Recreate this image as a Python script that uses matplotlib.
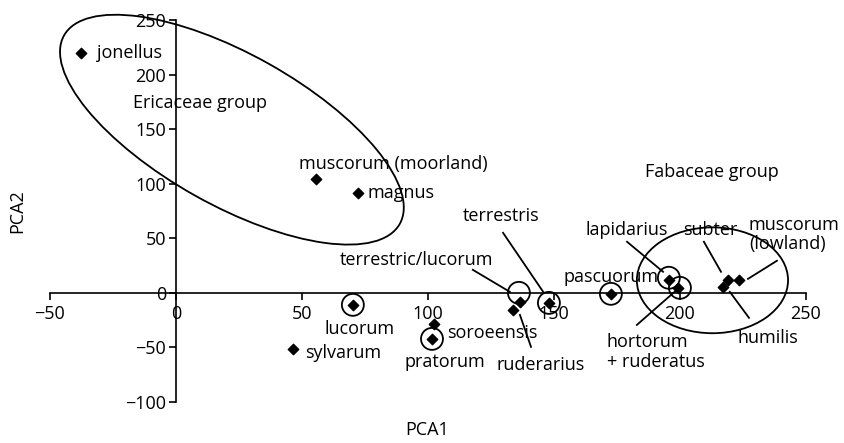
import numpy as np
import matplotlib
matplotlib.use('Agg')
import matplotlib.pyplot as plt
from matplotlib.patches import Ellipse
from matplotlib import transforms

plt.rcParams['font.family'] = ['Open Sans', 'DejaVu Sans']
plt.rcParams['font.size'] = 13

# species scores on the first two principal components
species = ['jonellus', 'muscorum (moorland)', 'magnus', 'lucorum', 'sylvarum',
           'soroeensis', 'pratorum', 'terrestric/lucorum', 'ruderarius',
           'terrestris', 'pascuorum', 'lapidarius', 'hortorum + ruderatus',
           'humilis', 'subter', 'muscorum (lowland)']
pca1 = [-37.7, 55.6, 72.2, 70.2, 46.4, 102.4, 101.8, 136.5, 133.7,
        148.0, 172.6, 195.6, 199.2, 217.0, 219.0, 223.4]
pca2 = [219.3, 104.6, 91.7, -11.0, -51.4, -28.4, -42.2, -8.3, -15.6,
        -9.2, -0.9, 11.9, 4.6, 5.5, 11.9, 11.9]

# label text, anchor (left edge, vertical centre)
label_text = ['jonellus', 'Ericaceae group', 'muscorum (moorland)', 'magnus',
              'Fabaceae group', 'terrestris', 'terrestric/lucorum', 'pascuorum',
              'lapidarius', 'subter', 'muscorum\n(lowland)', 'lucorum',
              'sylvarum', 'soroeensis', 'pratorum', 'ruderarius',
              'hortorum\n+ ruderatus', 'humilis']
label_x = [-31.3, -17.1, 48.8, 76.2, 186.1, 113.9, 65.1, 153.6,
           162.7, 201.2, 227.4, 59.1, 51.2, 107.5, 90.5, 127.4, 171.0, 223.0]
label_y = [219.3, 174.3, 118.3, 91.7, 111.0, 70.6, 30.3, 14.7,
           57.8, 57.8, 53.7, -33.0, -55.0, -36.7, -63.3, -66.0, -54.1, -41.3]

# leader lines from labels to points
leaders = [((117.8, 21.1), (132.5, 0.9)),
           ((129.8, 55.0), (146.0, 0.0)),
           ((136.5, -20.2), (140.9, -49.5)),
           ((179.0, 46.8), (193.3, 19.3)),
           ((209.5, 46.8), (216.3, 19.3)),
           ((238.5, 29.4), (227.0, 12.8)),
           ((219.8, 0.9), (227.4, -22.9)),
           ((182.9, -29.4), (198.8, 2.8))]

# small rings highlighting single species
ring_x = [70.2, 101.6, 136.1, 148.0, 172.6, 195.6, 200.0]
ring_y = [-11.0, -42.2, 0.0, -9.2, -0.9, 13.8, 4.6]

fig = plt.figure(figsize=(8.44, 4.43), dpi=100)
ax = fig.add_axes([0.0592, 0.0926, 0.8957, 0.8623])

ax.scatter(pca1, pca2, marker='D', s=28, color='black', zorder=3)
ax.scatter(ring_x, ring_y, marker='o', s=250, facecolors='none',
           edgecolors='black', linewidths=1.3, zorder=3)

for (x0, y0), (x1, y1) in leaders:
    ax.plot([x0, x1], [y0, y1], color='black', lw=1.3)

for t, x, y in zip(label_text, label_x, label_y):
    ax.text(x, y, t, ha='left', va='center', linespacing=1.1)

# group ellipses (Ericaceae drawn in screen inches so the tilt is kept)
eri = Ellipse((0, 0), 3.85, 1.51, angle=-29.3, fill=False, lw=1.3,
              edgecolor='black', clip_on=False,
              transform=fig.dpi_scale_trans +
              transforms.ScaledTranslation(22.2, 149.5, ax.transData))
ax.add_patch(eri)
fab = Ellipse((212.9, 11.5), 60, 97, fill=False, lw=1.3, edgecolor='black',
              clip_on=False)
ax.add_patch(fab)

ax.set_xlim(-50, 250)
ax.set_ylim(-100, 250)
ax.set_xticks(np.arange(-50, 251, 50))
ax.set_yticks(np.arange(-100, 251, 50))
for side in ['top', 'right']:
    ax.spines[side].set_visible(False)
for side in ['left', 'bottom']:
    ax.spines[side].set_position(('data', 0))
    ax.spines[side].set_linewidth(1.2)
ax.tick_params(axis='x', direction='out', length=5, width=1.2, pad=4)
ax.tick_params(axis='y', direction='out', length=5, width=1.2, pad=2)

fig.text(0.506, 0.03, 'PCA1', ha='center', va='center')
fig.text(0.02, 0.524, 'PCA2', ha='center', va='center', rotation=90)

fig.savefig('out.png', dpi=100)
